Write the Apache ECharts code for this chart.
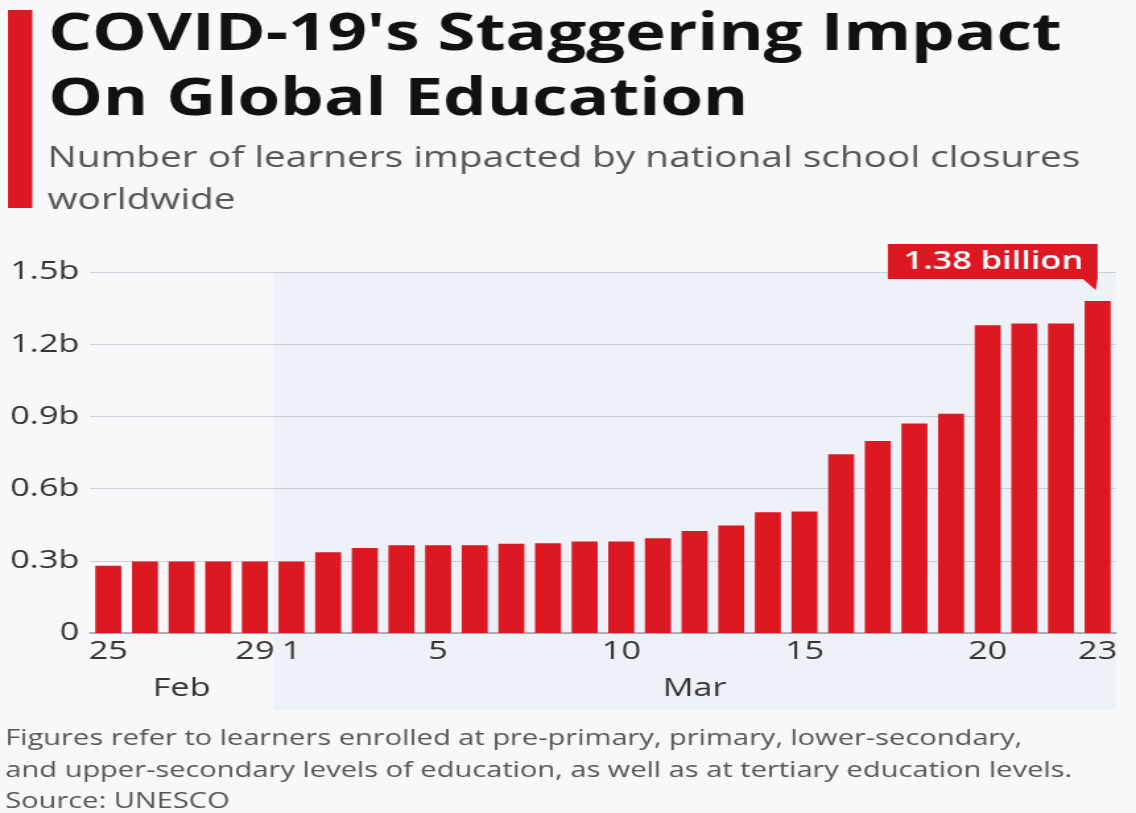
<!DOCTYPE html>
<html>
<head>
<meta charset="utf-8">
<title>COVID-19's Staggering Impact On Global Education</title>
<script src="https://cdn.jsdelivr.net/npm/echarts@6/dist/echarts.min.js"></script>
<style>
  html, body { margin: 0; padding: 0; background: #f8f8fb; overflow: hidden; }
  #stage { width: 1136px; height: 813px; overflow: hidden; }
  /* the chart is laid out on a narrower canvas and widened to the page width */
  #chart { width: 861px; height: 813px; transform: scaleX(1.3194); transform-origin: 0 0; }
</style>
</head>
<body>
<div id="stage"><div id="chart"></div></div>
<script>
// Daily count of learners affected by country-wide school closures (billions)
const dates = [
  '2020-02-25', '2020-02-26', '2020-02-27', '2020-02-28', '2020-02-29',
  '2020-03-01', '2020-03-02', '2020-03-03', '2020-03-04', '2020-03-05',
  '2020-03-06', '2020-03-07', '2020-03-08', '2020-03-09', '2020-03-10',
  '2020-03-11', '2020-03-12', '2020-03-13', '2020-03-14', '2020-03-15',
  '2020-03-16', '2020-03-17', '2020-03-18', '2020-03-19', '2020-03-20',
  '2020-03-21', '2020-03-22', '2020-03-23'
];
const learnersBn = [
  0.279, 0.297, 0.297, 0.297, 0.297,
  0.297, 0.336, 0.353, 0.365, 0.365,
  0.365, 0.371, 0.373, 0.380, 0.380,
  0.394, 0.424, 0.447, 0.502, 0.505,
  0.743, 0.798, 0.871, 0.911, 1.279,
  1.286, 1.286, 1.38
];
// days that carry a tick label
const labeledDates = ['2020-02-25', '2020-02-29', '2020-03-01', '2020-03-05',
  '2020-03-10', '2020-03-15', '2020-03-20', '2020-03-23'];
const months = [
  { key: '2020-02', name: 'Feb' },
  { key: '2020-03', name: 'Mar' }
];
const shadedMonth = '2020-03';
const calloutDate = '2020-03-23';
const yMin = 0, yMax = 1.5, yStep = 0.3;

const titleLines = ["COVID-19's Staggering Impact", 'On Global Education'];
const subtitleLines = ['Number of learners impacted by national school closures', 'worldwide'];
const noteLines = [
  'Figures refer to learners enrolled at pre-primary, primary, lower-secondary,',
  'and upper-secondary levels of education, as well as at tertiary education levels.',
  'Source: UNESCO'
];

const RED = '#dc1823';
const FONT = "'Open Sans', 'Noto Sans', sans-serif";
const calloutIndex = dates.indexOf(calloutDate);

const chart = echarts.init(document.getElementById('chart'), null, { renderer: 'canvas' });

const headerGraphics = [
  { type: 'rect', id: 'accent', shape: { x: 6, y: 10, width: 18.5, height: 198 }, style: { fill: RED } },
  {
    type: 'text', id: 'title',
    style: {
      x: 36.5, y: 2.7, text: titleLines.join('\n'), font: 'bold 52.3px ' + FONT,
      lineHeight: 65, fill: '#111111', textAlign: 'left', textVerticalAlign: 'top'
    }
  },
  {
    type: 'text', id: 'subtitle',
    style: {
      x: 36, y: 138, text: subtitleLines.join('\n'), font: '29.4px ' + FONT,
      lineHeight: 42, fill: '#555555', textAlign: 'left', textVerticalAlign: 'top'
    }
  },
  {
    type: 'text', id: 'note',
    style: {
      x: 4, y: 723, text: noteLines.join('\n'), font: '22px ' + FONT,
      lineHeight: 31.5, fill: '#555555', textAlign: 'left', textVerticalAlign: 'top'
    }
  }
];

chart.setOption({
  animation: false,
  backgroundColor: '#f8f8fb',
  grid: { left: 68.2, right: 15.2, top: 272, bottom: 180, containLabel: false },
  xAxis: {
    type: 'category',
    data: dates,
    boundaryGap: true,
    axisLine: { show: true, lineStyle: { color: '#9a9ca3', width: 1.5 } },
    axisTick: { show: false },
    axisLabel: {
      interval: (idx, val) => labeledDates.indexOf(val) !== -1,
      formatter: (val) => String(Number(val.slice(8, 10))),
      color: '#333333', fontSize: 26, fontFamily: FONT, margin: 6
    },
    splitLine: { show: false }
  },
  yAxis: {
    type: 'value',
    min: yMin, max: yMax, interval: yStep,
    axisLine: { show: false },
    axisTick: { show: false },
    axisLabel: {
      formatter: (v) => (v === 0 ? '0' : v.toFixed(1) + 'b'),
      color: '#333333', fontSize: 26, fontFamily: FONT, margin: 8
    },
    splitLine: { lineStyle: { color: '#cbced6', width: 1.2 } }
  },
  series: [{
    type: 'bar',
    barCategoryGap: '29%',
    itemStyle: { color: RED },
    data: learnersBn.map((v, i) => i === calloutIndex ? {
      value: v,
      label: {
        show: true, position: 'top', distance: 22, align: 'right',
        formatter: (p) => p.value.toFixed(2) + ' billion',
        color: '#ffffff', backgroundColor: RED, fontSize: 26, fontWeight: 600,
        fontFamily: FONT, lineHeight: 27, padding: [4, 11, 4, 12]
      }
    } : v)
  }],
  graphic: headerGraphics
});

// Decorations placed from the axis scales once the grid is laid out
function placeDecorations() {
  const toPx = (idx, val) => chart.convertToPixel({ gridIndex: 0 }, [idx, val]);
  const p0 = toPx(0, 0), p1 = toPx(1, 0);
  const band = p1[0] - p0[0];
  const zeroY = p0[1];
  const topY = toPx(0, yMax)[1];
  const rightX = toPx(dates.length - 1, 0)[0] + band / 2;

  const extra = [];

  // shaded panel behind the current month
  const firstShaded = dates.findIndex((d) => d.startsWith(shadedMonth));
  const shadeLeft = toPx(firstShaded, 0)[0] - band / 2;
  extra.push({
    type: 'rect', id: 'monthShade', z: -10,
    shape: { x: shadeLeft, y: topY, width: rightX - shadeLeft, height: zeroY - topY + 77 },
    style: { fill: '#eef1f8' }
  });

  // month names centred under their days
  months.forEach((m) => {
    const idxs = dates.map((d, i) => (d.startsWith(m.key) ? i : -1)).filter((i) => i >= 0);
    const left = toPx(idxs[0], 0)[0] - band / 2;
    const right = toPx(idxs[idxs.length - 1], 0)[0] + band / 2;
    extra.push({
      type: 'text', id: 'month-' + m.key,
      style: {
        x: (left + right) / 2, y: zeroY + 56, text: m.name, font: '26px ' + FONT,
        fill: '#333333', textAlign: 'center', textVerticalAlign: 'middle'
      }
    });
  });

  // pointer under the value callout
  const tip = toPx(calloutIndex, learnersBn[calloutIndex]);
  const boxBottom = tip[1] - 22;
  extra.push({
    type: 'polygon', id: 'calloutTail', z: 5,
    shape: { points: [[tip[0] - 12, boxBottom - 1], [tip[0], boxBottom - 1], [tip[0] - 1.5, boxBottom + 11]] },
    style: { fill: RED }
  });

  chart.setOption({ graphic: headerGraphics.concat(extra) });
}
placeDecorations();
</script>
</body>
</html>
